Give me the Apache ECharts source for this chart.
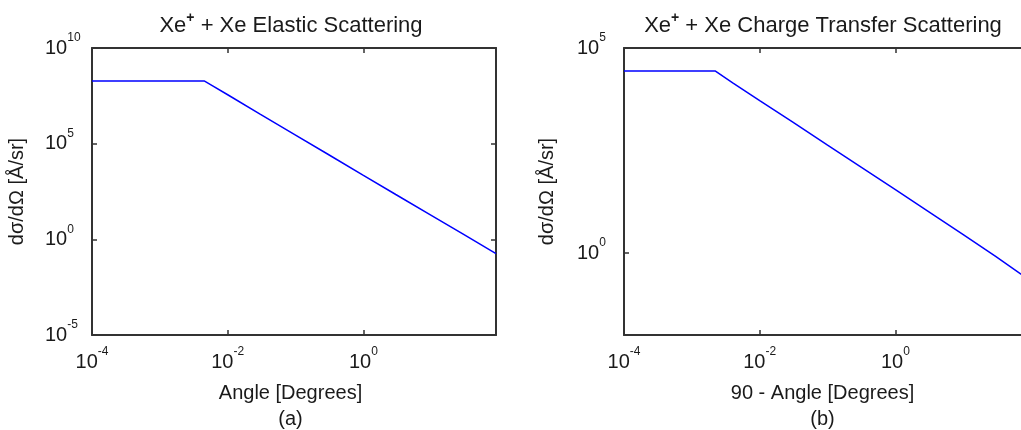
<!DOCTYPE html>
<html><head><meta charset="utf-8">
<script src="https://cdn.jsdelivr.net/npm/echarts@6/dist/echarts.min.js"></script>
<style>html,body{margin:0;padding:0;background:#fff}#c{width:1021px;height:430px}</style>
</head><body><div id="c"></div>
<script>
// Data
const elasticAngle = [1e-4, 0.0045, 0.006, 0.01, 0.03, 0.1, 0.3, 1, 3, 10, 30, 90];
const elasticDcs   = [1.9e8, 1.9e8, 1.05e8, 3.6e7, 3.5e6, 2.8e5, 2.8e4, 2.2e3, 220, 18, 1.8, 0.18];
const ctAngle = [1e-4, 0.0022, 0.004, 0.01, 0.03, 0.1, 0.3, 1, 3, 10, 30, 70, 90];
const ctDcs   = [2.75e4, 2.75e4, 1.42e4, 5.2e3, 1.6e3, 430, 130, 35, 10.5, 2.8, 0.83, 0.31, 0.24];
const xTicks  = [1e-4, 1e-2, 1];
const yTicksA = [1e-5, 1, 1e5, 1e10];
const yTicksB = [1, 1e5];
const xRange  = [1e-4, 90];
const yRangeA = [1e-5, 1e10];
const yRangeB = [1e-2, 1e5];

const FONT = 'Liberation Sans, Arial, sans-serif';
const INK = '#1a1a1a';
const pow10 = v => '{b|10}{s|' + Math.round(Math.log10(v)) + '}';
const labelRich = {
  b: {fontSize: 20, lineHeight: 20, fontFamily: FONT, color: INK, verticalAlign: 'middle'},
  s: {fontSize: 12, lineHeight: 12, fontFamily: FONT, color: INK, verticalAlign: 'middle', padding: [0, 0, 20, 0]}
};
const lineStyle = {color: '#333', width: 2};
const tick = vals => ({show: true, inside: true, length: 5, lineStyle: {color: '#333', width: 1.5}, customValues: vals});

function xAx(grid, pos, name) {
  const main = pos === 'bottom';
  return {
    gridIndex: grid, type: 'log', logBase: 10, position: pos, min: xRange[0], max: xRange[1],
    axisLine: {show: true, lineStyle: lineStyle},
    axisTick: tick(xTicks),
    splitLine: {show: false}, minorTick: {show: false},
    axisLabel: main ? {show: true, customValues: xTicks, formatter: pow10, margin: 17, rich: labelRich} : {show: false},
    name: main ? name : '', nameLocation: 'middle', nameGap: 45, nameMoveOverlap: false,
    nameTextStyle: {fontSize: 20, lineHeight: 26, fontFamily: FONT, color: INK, padding: [0, 7, 0, 0]}
  };
}
function yAx(grid, pos, range, ticks, gap) {
  const main = pos === 'left';
  return {
    gridIndex: grid, type: 'log', logBase: 10, position: pos, min: range[0], max: range[1],
    axisLine: {show: true, lineStyle: lineStyle},
    axisTick: tick(ticks),
    splitLine: {show: false}, minorTick: {show: false},
    axisLabel: main ? {show: true, customValues: ticks, formatter: pow10, align: 'left', margin: 47, rich: labelRich} : {show: false},
    name: main ? 'dσ/dΩ [Å/sr]' : '', nameLocation: 'middle', nameGap: gap, nameMoveOverlap: false,
    nameTextStyle: {fontSize: 20, fontFamily: FONT, color: INK}
  };
}
const titleRich = {
  n: {fontSize: 22, lineHeight: 22, fontFamily: FONT, fontWeight: 'normal', color: INK, verticalAlign: 'middle'},
  s: {fontSize: 14, lineHeight: 14, fontFamily: FONT, color: INK, fontWeight: 'bold', verticalAlign: 'middle', padding: [0, 0, 16, 0]}
};

const chart = echarts.init(document.getElementById('c'), null, {renderer: 'canvas'});
chart.setOption({
  animation: false,
  backgroundColor: '#fff',
  title: [
    {text: '{n|Xe}{s|+}{n| + Xe Elastic Scattering}', left: 291, top: 15, textAlign: 'center', padding: 0, textStyle: {fontWeight: 'normal', rich: titleRich}},
    {text: '{n|Xe}{s|+}{n| + Xe Charge Transfer Scattering}', left: 823, top: 15, textAlign: 'center', padding: 0, textStyle: {fontWeight: 'normal', rich: titleRich}}
  ],
  grid: [
    {left: 92, top: 48, width: 404, height: 287, containLabel: false, outerBoundsMode: 'none'},
    {left: 624, top: 48, width: 404, height: 287, containLabel: false, outerBoundsMode: 'none'}
  ],
  xAxis: [
    xAx(0, 'bottom', 'Angle [Degrees]\n(a)'),
    xAx(0, 'top', ''),
    xAx(1, 'bottom', '90 - Angle [Degrees]\n(b)'),
    xAx(1, 'top', '')
  ],
  yAxis: [
    yAx(0, 'left', yRangeA, yTicksA, 65),
    yAx(0, 'right', yRangeA, yTicksA, 65),
    yAx(1, 'left', yRangeB, yTicksB, 67),
    yAx(1, 'right', yRangeB, yTicksB, 67)
  ],
  series: [
    {type: 'line', xAxisIndex: 0, yAxisIndex: 0, showSymbol: false, clip: true,
     lineStyle: {color: '#0000ff', width: 1.5},
     data: elasticAngle.map((a, i) => [a, elasticDcs[i]])},
    {type: 'line', xAxisIndex: 2, yAxisIndex: 2, showSymbol: false, clip: true,
     lineStyle: {color: '#0000ff', width: 1.5},
     data: ctAngle.map((a, i) => [a, ctDcs[i]])}
  ]
});
</script></body></html>
